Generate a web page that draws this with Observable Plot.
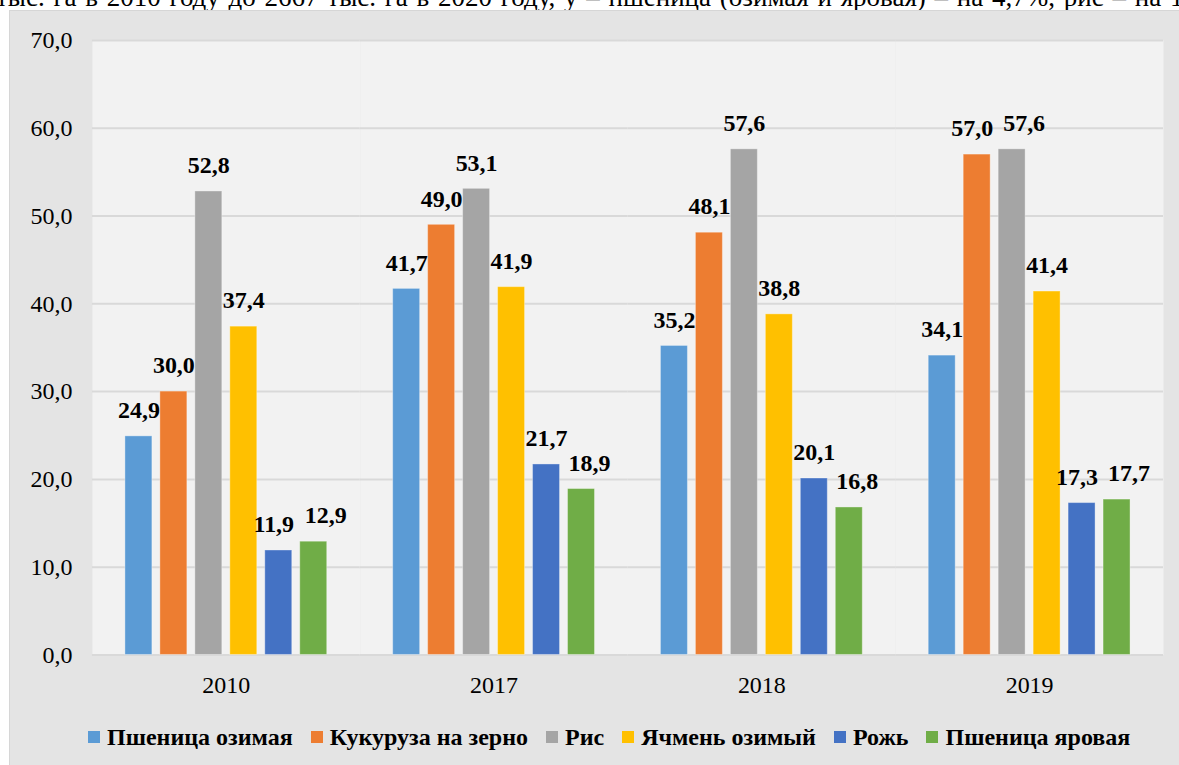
<!DOCTYPE html>
<html>
<head>
<meta charset="utf-8">
<script src="https://cdn.jsdelivr.net/npm/d3@7"></script>
<script src="https://cdn.jsdelivr.net/npm/@observablehq/plot@0.6"></script>
<style>
  html, body { margin: 0; padding: 0; background: #ffffff; width: 1179px; height: 765px; overflow: hidden; }
  body { position: relative; font-family: "Liberation Serif", "DejaVu Serif", serif; }
  #toptext { position: absolute; left: -4px; top: -16px; font-size: 27px; line-height: 27px; word-spacing: 2px; white-space: nowrap; color: #000; }
  #chart { position: absolute; left: 9px; top: 10px; width: 1170px; height: 755px; background: #e4e4e4; box-sizing: border-box; border-left: 1px solid #d6d6d6; border-top: 1px solid #d6d6d6; }
  #chart svg { position: absolute; left: -1px; top: -1px; }
  #chart svg text { font-family: "Liberation Serif", "DejaVu Serif", serif; }
  #legend { position: absolute; left: 78px; top: 714px; height: 24px; display: flex; align-items: center; font-size: 24px; line-height: 24px; font-weight: bold; color: #000; white-space: nowrap; }
  .item { display: flex; align-items: center; margin-right: 18px; }
  .sw { width: 12px; height: 12px; margin-right: 7px; }
</style>
</head>
<body>
<div id="toptext">тыс. га в 2010 году до 2667 тыс. га в 2020 году, у – пшеница (озимая и яровая) – на 4,7%, рис – на 1,1</div>
<div id="chart"><div id="legend"></div></div>
<script>
const years = ["2010", "2017", "2018", "2019"];
const crops = ["Пшеница озимая", "Кукуруза на зерно", "Рис", "Ячмень озимый", "Рожь", "Пшеница яровая"];
const colors = ["#5B9BD5", "#ED7D31", "#A5A5A5", "#FFC000", "#4472C4", "#70AD47"];
const wheatWinter = [24.9, 41.7, 35.2, 34.1];
const corn = [30.0, 49.0, 48.1, 57.0];
const rice = [52.8, 53.1, 57.6, 57.6];
const barleyWinter = [37.4, 41.9, 38.8, 41.4];
const rye = [11.9, 21.7, 20.1, 17.3];
const wheatSpring = [12.9, 18.9, 16.8, 17.7];
const yTicks = [0, 10, 20, 30, 40, 50, 60, 70];

const series = [wheatWinter, corn, rice, barleyWinter, rye, wheatSpring];
const data = [];
years.forEach((year, yi) => {
  crops.forEach((crop, ci) => {
    data.push({year, crop, value: series[ci][yi], shift: 0});
  });
});
// simple label collision avoidance between neighbouring bars of a group
years.forEach(year => {
  const g = data.filter(d => d.year === year);
  for (let i = 0; i < g.length - 1; i++) {
    const diff = Math.abs(g[i].value - g[i + 1].value);
    if (diff <= 1.5) { g[i].shift -= 5; g[i + 1].shift += 12; }
    else if (diff <= 3.5) { g[i + 1].shift += 8; }
  }
});
const fmt = v => v.toFixed(1).replace(".", ",");
const shifts = Array.from(new Set(data.map(d => d.shift)));

const chart = Plot.plot({
  width: 1170,
  height: 705,
  marginLeft: 81,
  marginRight: 14,
  marginTop: 30,
  marginBottom: 60,
  style: {background: "transparent", fontFamily: "'Liberation Serif', 'DejaVu Serif', serif", fontSize: "24px", color: "#000", overflow: "visible"},
  facet: {data, x: "year"},
  fx: {domain: years, padding: 0, axis: "bottom", tickSize: 0, tickPadding: 21, label: null},
  x: {domain: crops, paddingInner: 0.22, paddingOuter: 0.857, axis: null},
  y: {domain: [0, 70], ticks: yTicks, tickFormat: fmt, tickSize: 0, tickPadding: 20, grid: false, label: null},
  color: {domain: crops, range: colors},
  marks: [
    Plot.frame({fill: "#f2f2f2", stroke: null}),
    Plot.ruleY(yTicks, {stroke: "#d9d9d9", strokeWidth: 2}),
    Plot.barY(data, {x: "crop", y: "value", fill: "crop", stroke: "#ffffff", strokeOpacity: 0.35, strokeWidth: 1}),
    ...shifts.map(s => Plot.text(data, {filter: d => d.shift === s, x: "crop", y: "value", text: d => fmt(d.value), dx: s, dy: -26, fontWeight: "bold", fontSize: 24, fill: "#000"}))
  ]
});
document.getElementById("chart").appendChild(chart);

const legend = document.getElementById("legend");
crops.forEach((c, i) => {
  const item = document.createElement("div");
  item.className = "item";
  const sw = document.createElement("span");
  sw.className = "sw";
  sw.style.background = colors[i];
  const t = document.createElement("span");
  t.textContent = c;
  item.appendChild(sw);
  item.appendChild(t);
  legend.appendChild(item);
});
</script>
</body>
</html>
